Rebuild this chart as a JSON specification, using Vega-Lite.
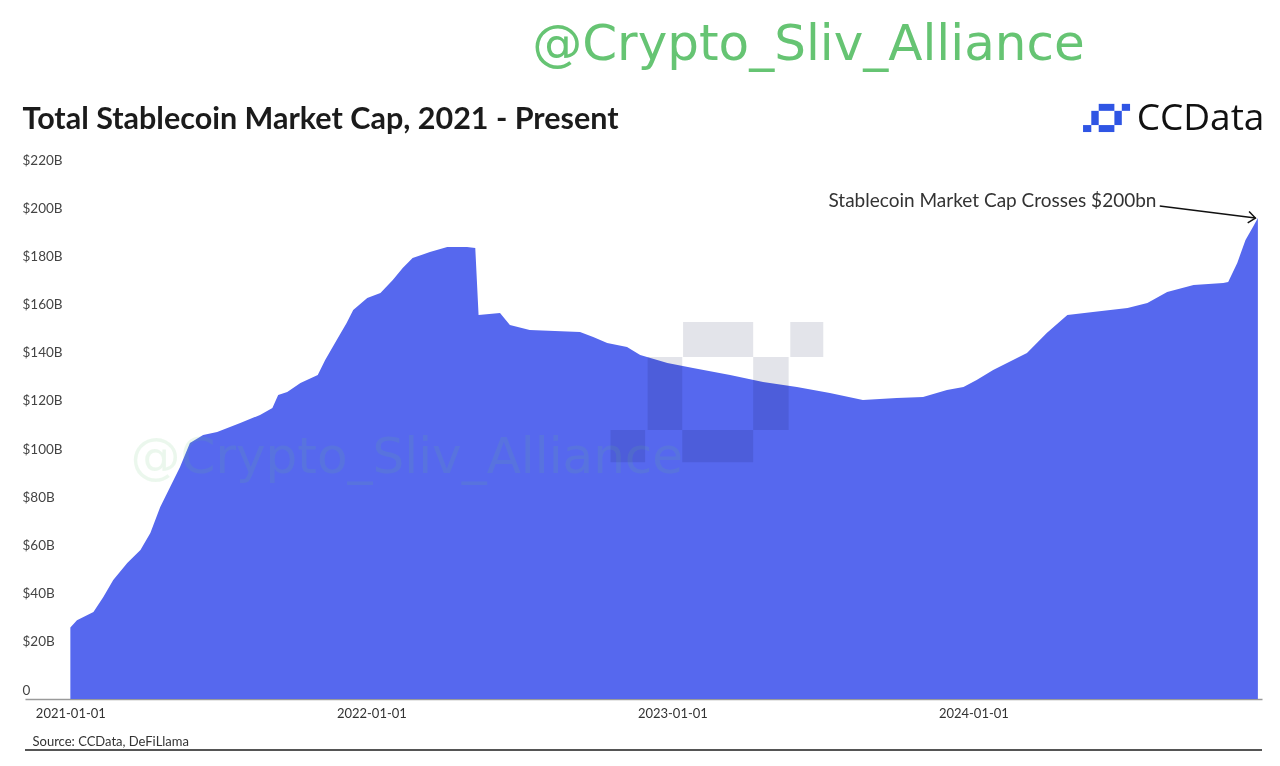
{
  "$schema": "https://vega.github.io/schema/vega-lite/v6.json",
  "width": 1237,
  "height": 539,
  "autosize": {"type": "none"},
  "padding": {"left": 25, "top": 160, "right": 18, "bottom": 67},
  "background": "white",
  "config": {"view": {"stroke": null}, "font": "Lato"},
  "datasets": {
    "cap": [
      {"date": "2021-01-01", "v": 26},
      {"date": "2021-01-09", "v": 29},
      {"date": "2021-01-29", "v": 32.4},
      {"date": "2021-02-10", "v": 38.6},
      {"date": "2021-02-22", "v": 45.7},
      {"date": "2021-03-11", "v": 52.7},
      {"date": "2021-03-27", "v": 58.1},
      {"date": "2021-04-08", "v": 65.2},
      {"date": "2021-04-20", "v": 76},
      {"date": "2021-05-02", "v": 84.3},
      {"date": "2021-05-14", "v": 92.6},
      {"date": "2021-05-26", "v": 102.5},
      {"date": "2021-06-11", "v": 105.9},
      {"date": "2021-06-28", "v": 107.1},
      {"date": "2021-07-26", "v": 110.8},
      {"date": "2021-08-19", "v": 114.2},
      {"date": "2021-09-03", "v": 117.1},
      {"date": "2021-09-10", "v": 122.5},
      {"date": "2021-09-21", "v": 123.7},
      {"date": "2021-10-07", "v": 127.4},
      {"date": "2021-10-28", "v": 130.8},
      {"date": "2021-11-06", "v": 137},
      {"date": "2021-11-20", "v": 145.3},
      {"date": "2021-12-02", "v": 152.3},
      {"date": "2021-12-10", "v": 157.7},
      {"date": "2021-12-27", "v": 162.7},
      {"date": "2022-01-12", "v": 164.8},
      {"date": "2022-01-27", "v": 170.2},
      {"date": "2022-02-08", "v": 175.2},
      {"date": "2022-02-20", "v": 179.3},
      {"date": "2022-03-13", "v": 181.8},
      {"date": "2022-04-03", "v": 183.9},
      {"date": "2022-04-27", "v": 183.9},
      {"date": "2022-05-07", "v": 183.5},
      {"date": "2022-05-11", "v": 155.7},
      {"date": "2022-06-06", "v": 156.5},
      {"date": "2022-06-18", "v": 151.5},
      {"date": "2022-07-12", "v": 149.4},
      {"date": "2022-09-11", "v": 148.6},
      {"date": "2022-09-27", "v": 146.5},
      {"date": "2022-10-14", "v": 144},
      {"date": "2022-11-07", "v": 142.4},
      {"date": "2022-11-23", "v": 139.1},
      {"date": "2022-12-26", "v": 135.7},
      {"date": "2023-01-26", "v": 133.7},
      {"date": "2023-03-12", "v": 130.8},
      {"date": "2023-04-21", "v": 127.9},
      {"date": "2023-06-01", "v": 125.8},
      {"date": "2023-07-11", "v": 123.3},
      {"date": "2023-08-20", "v": 120.4},
      {"date": "2023-09-30", "v": 121.2},
      {"date": "2023-11-01", "v": 121.6},
      {"date": "2023-11-30", "v": 124.5},
      {"date": "2023-12-20", "v": 125.8},
      {"date": "2024-01-05", "v": 128.7},
      {"date": "2024-01-25", "v": 132.8},
      {"date": "2024-03-06", "v": 139.9},
      {"date": "2024-03-30", "v": 148.2},
      {"date": "2024-04-24", "v": 155.7},
      {"date": "2024-05-25", "v": 156.9},
      {"date": "2024-07-06", "v": 158.6},
      {"date": "2024-07-30", "v": 160.6},
      {"date": "2024-08-23", "v": 165.2},
      {"date": "2024-09-24", "v": 168.1},
      {"date": "2024-10-30", "v": 169},
      {"date": "2024-11-05", "v": 169.4},
      {"date": "2024-11-16", "v": 177.3},
      {"date": "2024-11-26", "v": 186.8},
      {"date": "2024-12-05", "v": 192.2},
      {"date": "2024-12-11", "v": 195.9}
    ],
    "blocks": [
      {"date": "2023-01-14", "date2": "2023-04-09", "v": 138.2, "v2": 152.8},
      {"date": "2023-05-24", "date2": "2023-07-03", "v": 138.2, "v2": 152.8},
      {"date": "2022-12-02", "date2": "2023-01-13", "v": 107.9, "v2": 138.2},
      {"date": "2023-04-09", "date2": "2023-05-22", "v": 107.9, "v2": 138.2},
      {"date": "2022-10-18", "date2": "2022-11-29", "v": 94.6, "v2": 107.9},
      {"date": "2023-01-13", "date2": "2023-04-09", "v": 94.6, "v2": 107.9}
    ],
    "logo": [
      {"date": "2024-06-01", "date2": "2024-06-20", "v": 240.4, "v2": 243.3},
      {"date": "2024-06-29", "date2": "2024-07-09", "v": 240.4, "v2": 243.3},
      {"date": "2024-05-23", "date2": "2024-06-01", "v": 234.5, "v2": 240.4},
      {"date": "2024-06-20", "date2": "2024-06-29", "v": 234.5, "v2": 240.4},
      {"date": "2024-05-13", "date2": "2024-05-23", "v": 231.6, "v2": 234.5},
      {"date": "2024-06-01", "date2": "2024-06-20", "v": 231.6, "v2": 234.5}
    ]
  },
  "layer": [
    {
      "data": {"name": "cap"},
      "mark": {"type": "area", "color": "#5668EE", "interpolate": "linear"},
      "encoding": {
        "x": {
          "field": "date",
          "type": "temporal",
          "scale": {
            "type": "utc",
            "domain": [
              {"year": 2020, "month": 11, "date": 7, "utc": true},
              {"year": 2024, "month": 12, "date": 16, "utc": true}
            ]
          },
          "axis": {
            "values": [
              {"year": 2021, "month": 1, "date": 1, "utc": true},
              {"year": 2022, "month": 1, "date": 1, "utc": true},
              {"year": 2023, "month": 1, "date": 1, "utc": true},
              {"year": 2024, "month": 1, "date": 1, "utc": true}
            ],
            "labelExpr": "utcFormat(datum.value, '%Y-%m-%d')",
            "domain": true,
            "domainColor": "#9a9a9a",
            "domainWidth": 1.5,
            "ticks": false,
            "tickSize": 0,
            "grid": false,
            "labelPadding": 8,
            "labelFont": "Lato",
            "labelFontSize": 13,
            "labelColor": "#333333",
            "labelFlush": false,
            "title": "Source: CCData, DeFiLlama",
            "titleAnchor": "start",
            "titleAlign": "left",
            "titleX": 7,
            "titleY": 42,
            "titleBaseline": "middle",
            "titleFont": "Lato",
            "titleFontSize": 13,
            "titleFontWeight": "normal",
            "titleColor": "#333333"
          }
        },
        "y": {
          "field": "v",
          "type": "quantitative",
          "scale": {"domain": [-3.7, 220], "nice": false, "zero": false},
          "axis": {
            "values": [0, 20, 40, 60, 80, 100, 120, 140, 160, 180, 200, 220],
            "labelExpr": "datum.value == 0 ? '0' : '$' + datum.value + 'B'",
            "domain": false,
            "ticks": false,
            "tickSize": 0,
            "grid": false,
            "labelAlign": "left",
            "labelPadding": 3,
            "labelFont": "Lato",
            "labelFontSize": 13.5,
            "labelColor": "#444444",
            "title": null
          }
        },
        "y2": {"datum": -3.7}
      }
    },
    {
      "data": {"name": "blocks"},
      "mark": {"type": "rect", "fill": "#e3e4ea", "blend": "multiply"},
      "encoding": {
        "x": {"field": "date", "type": "temporal"},
        "x2": {"field": "date2"},
        "y": {"field": "v", "type": "quantitative"},
        "y2": {"field": "v2"}
      }
    },
    {
      "data": {"values": [{"date": "2021-03-15", "v": 96.3, "label": "@Crypto_Sliv_Alliance"}]},
      "mark": {"type": "text", "align": "left", "baseline": "middle", "font": "DejaVu Sans", "fontSize": 50, "color": "#66c473", "opacity": 0.12},
      "encoding": {
        "x": {"field": "date", "type": "temporal"},
        "y": {"field": "v", "type": "quantitative"},
        "text": {"field": "label"}
      }
    },
    {
      "data": {"values": [{"date": "2022-07-15", "v": 267.7, "label": "@Crypto_Sliv_Alliance"}]},
      "mark": {"type": "text", "align": "left", "baseline": "middle", "font": "DejaVu Sans", "fontSize": 50, "color": "#66c473"},
      "encoding": {
        "x": {"field": "date", "type": "temporal"},
        "y": {"field": "v", "type": "quantitative"},
        "text": {"field": "label"}
      }
    },
    {
      "data": {"values": [{"date": "2020-11-04", "v": 236.6, "label": "Total Stablecoin Market Cap, 2021 - Present"}]},
      "mark": {"type": "text", "align": "left", "baseline": "middle", "font": "Lato", "fontWeight": "bold", "fontSize": 30.5, "color": "#1b1b1b"},
      "encoding": {
        "x": {"field": "date", "type": "temporal"},
        "y": {"field": "v", "type": "quantitative"},
        "text": {"field": "label"}
      }
    },
    {
      "data": {"values": [{"date": "2024-07-17", "v": 237.0, "label": "CCData"}]},
      "mark": {"type": "text", "align": "left", "baseline": "middle", "font": "Open Sans", "fontWeight": 500, "fontSize": 37, "color": "#111111"},
      "encoding": {
        "x": {"field": "date", "type": "temporal"},
        "y": {"field": "v", "type": "quantitative"},
        "text": {"field": "label"}
      }
    },
    {
      "data": {"name": "logo"},
      "mark": {"type": "rect", "fill": "#2f55e4"},
      "encoding": {
        "x": {"field": "date", "type": "temporal"},
        "x2": {"field": "date2"},
        "y": {"field": "v", "type": "quantitative"},
        "y2": {"field": "v2"}
      }
    },
    {
      "data": {"values": [{"date": "2024-08-10", "v": 203.0, "label": "Stablecoin Market Cap Crosses $200bn"}]},
      "mark": {"type": "text", "align": "right", "baseline": "middle", "font": "Lato", "fontSize": 19, "color": "#333333"},
      "encoding": {
        "x": {"field": "date", "type": "temporal"},
        "y": {"field": "v", "type": "quantitative"},
        "text": {"field": "label"}
      }
    },
    {
      "data": {"values": [{"date": "2024-08-14", "v": 200.9, "date2": "2024-12-08", "v2": 195.9}]},
      "mark": {"type": "rule", "color": "#111111", "strokeWidth": 1.5},
      "encoding": {
        "x": {"field": "date", "type": "temporal"},
        "x2": {"field": "date2"},
        "y": {"field": "v", "type": "quantitative"},
        "y2": {"field": "v2"}
      }
    },
    {
      "data": {"values": [{"date": "2024-12-08", "v": 195.9}]},
      "mark": {"type": "point", "shape": "M -1 -0.8 L 0 0 L -1 0.8", "filled": false, "stroke": "#111111", "strokeWidth": 1.5, "size": 200, "angle": 7, "opacity": 1},
      "encoding": {
        "x": {"field": "date", "type": "temporal"},
        "y": {"field": "v", "type": "quantitative"}
      }
    },
    {
      "data": {"values": [{}]},
      "mark": {"type": "rule", "color": "#555555", "strokeWidth": 2},
      "encoding": {"y": {"datum": -24.9}}
    }
  ]
}
